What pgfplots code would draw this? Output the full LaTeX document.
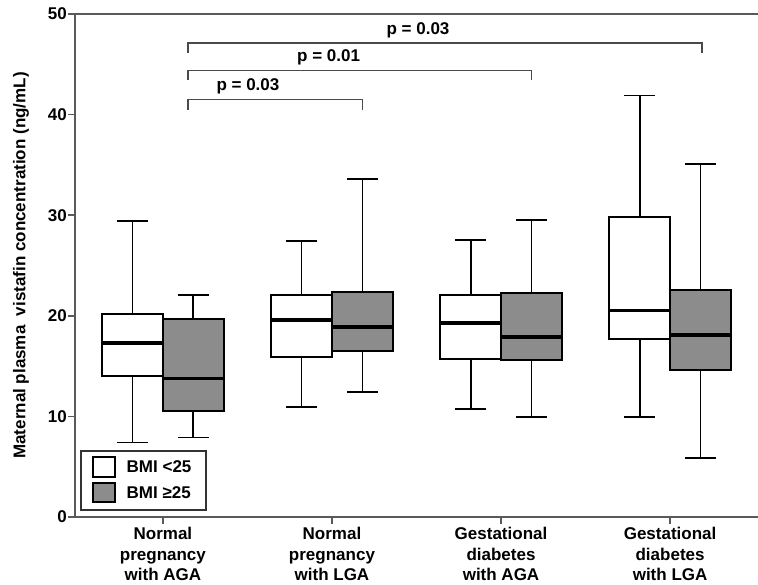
\documentclass[border=0pt]{standalone}
\usepackage{fontspec}
\setmainfont{Liberation Sans}
\usepackage{pgfplots}
\pgfplotsset{compat=1.18}
\usepgfplotslibrary{statistics}
\definecolor{boxgray}{HTML}{8C8C8C}
\definecolor{axgray}{HTML}{5A5A5A}
\definecolor{brgray}{HTML}{4A4A4A}
\newcommand{\lbl}{\fontsize{17}{20.5}\selectfont\bfseries}

\begin{document}
\begin{tikzpicture}
\begin{axis}[
  width=683pt, height=503pt, scale only axis,
  xmin=0.48, xmax=4.52, ymin=0, ymax=50,
  axis x line*=bottom, axis y line*=left,
  axis line style={-, axgray, line width=2pt},
  tick style={axgray, line width=1.6pt},
  tick align=outside, major tick length=7pt,
  ytick={0,10,...,50},
  xtick={1,2,3,4},
  xticklabels={{Normal\\pregnancy\\with AGA},{Normal\\pregnancy\\with LGA},
               {Gestational\\diabetes\\with AGA},{Gestational\\diabetes\\with LGA}},
  x tick label style={align=center, font=\lbl, inner sep=3pt},
  y tick label style={font=\lbl, inner sep=1pt},
  /pgf/number format/assume math mode=true,
  ylabel={Maternal plasma\ \ vistafin concentration (ng/mL)},
  ylabel style={font=\lbl, at={(axis description cs:-0.079,0.5)}, anchor=center},
  clip=false,
  boxplot/draw direction=y,
  boxplot/every median/.style={line width=3.4pt},
  boxplot/every whisker/.style={line width=1.8pt},
  boxplot/every box/.style={line width=1.8pt},
]
  % BMI < 25 (white)
  \addplot[draw=black, fill=white, line width=1.8pt, boxplot prepared={draw position=0.82,
    lower whisker=7.4, lower quartile=14.0, median=17.3, upper quartile=20.15, upper whisker=29.4,
    box extend=0.36, whisker extend=0.18}] coordinates {};
  \addplot[draw=black, fill=white, line width=1.8pt, boxplot prepared={draw position=1.82,
    lower whisker=10.9, lower quartile=15.9, median=19.6, upper quartile=22.1, upper whisker=27.4,
    box extend=0.36, whisker extend=0.18}] coordinates {};
  \addplot[draw=black, fill=white, line width=1.8pt, boxplot prepared={draw position=2.82,
    lower whisker=10.7, lower quartile=15.7, median=19.3, upper quartile=22.1, upper whisker=27.5,
    box extend=0.36, whisker extend=0.18}] coordinates {};
  \addplot[draw=black, fill=white, line width=1.8pt, boxplot prepared={draw position=3.82,
    lower whisker=9.9, lower quartile=17.7, median=20.5, upper quartile=29.85, upper whisker=41.9,
    box extend=0.36, whisker extend=0.18}] coordinates {};
  % BMI >= 25 (grey)
  \addplot[draw=black, fill=boxgray, line width=1.8pt, boxplot prepared={draw position=1.18,
    lower whisker=7.9, lower quartile=10.5, median=13.75, upper quartile=19.7, upper whisker=22.1,
    box extend=0.36, whisker extend=0.18}] coordinates {};
  \addplot[draw=black, fill=boxgray, line width=1.8pt, boxplot prepared={draw position=2.18,
    lower whisker=12.4, lower quartile=16.5, median=18.9, upper quartile=22.4, upper whisker=33.6,
    box extend=0.36, whisker extend=0.18}] coordinates {};
  \addplot[draw=black, fill=boxgray, line width=1.8pt, boxplot prepared={draw position=3.18,
    lower whisker=9.9, lower quartile=15.6, median=17.9, upper quartile=22.3, upper whisker=29.5,
    box extend=0.36, whisker extend=0.18}] coordinates {};
  \addplot[draw=black, fill=boxgray, line width=1.8pt, boxplot prepared={draw position=4.18,
    lower whisker=5.9, lower quartile=14.6, median=18.1, upper quartile=22.6, upper whisker=35.1,
    box extend=0.36, whisker extend=0.18}] coordinates {};

  % top frame line
  \draw[axgray, line width=2pt] (rel axis cs:0,1) -- (rel axis cs:1,1);

  % significance brackets
  \draw[brgray, line width=1.6pt] (axis cs:1.15,40.5) -- (axis cs:1.15,41.5) -- (axis cs:2.18,41.5) -- (axis cs:2.18,40.5);
  \draw[brgray, line width=1.6pt] (axis cs:1.15,43.4) -- (axis cs:1.15,44.4) -- (axis cs:3.18,44.4) -- (axis cs:3.18,43.4);
  \draw[brgray, line width=1.6pt] (axis cs:1.15,46.1) -- (axis cs:1.15,47.1) -- (axis cs:4.19,47.1) -- (axis cs:4.19,46.1);
  \node[font=\lbl] at (axis cs:1.503,42.8) {p = 0.03};
  \node[font=\lbl] at (axis cs:1.98,45.7) {p = 0.01};
  \node[font=\lbl] at (axis cs:2.509,48.4) {p = 0.03};

  % legend
  \draw[black!80, line width=1.8pt] (axis cs:0.5155,0.7) rectangle (axis cs:1.255,6.56);
  \draw[black, line width=1.5pt, fill=white] (axis cs:0.5865,3.98) rectangle (axis cs:0.7166,5.96);
  \draw[black, line width=1.5pt, fill=boxgray] (axis cs:0.5865,1.49) rectangle (axis cs:0.7166,3.38);
  \node[font=\lbl, anchor=west] at (axis cs:0.765,4.97) {BMI <25};
  \node[font=\lbl, anchor=west] at (axis cs:0.765,2.44) {BMI ≥25};

  \coordinate (bl) at (rel axis cs:0,0);
  \coordinate (tr) at (rel axis cs:1,1);
\end{axis}
\pgfresetboundingbox
\path ([xshift=-75pt,yshift=-68pt]bl) rectangle ([yshift=14pt]tr);
\end{tikzpicture}
\end{document}
